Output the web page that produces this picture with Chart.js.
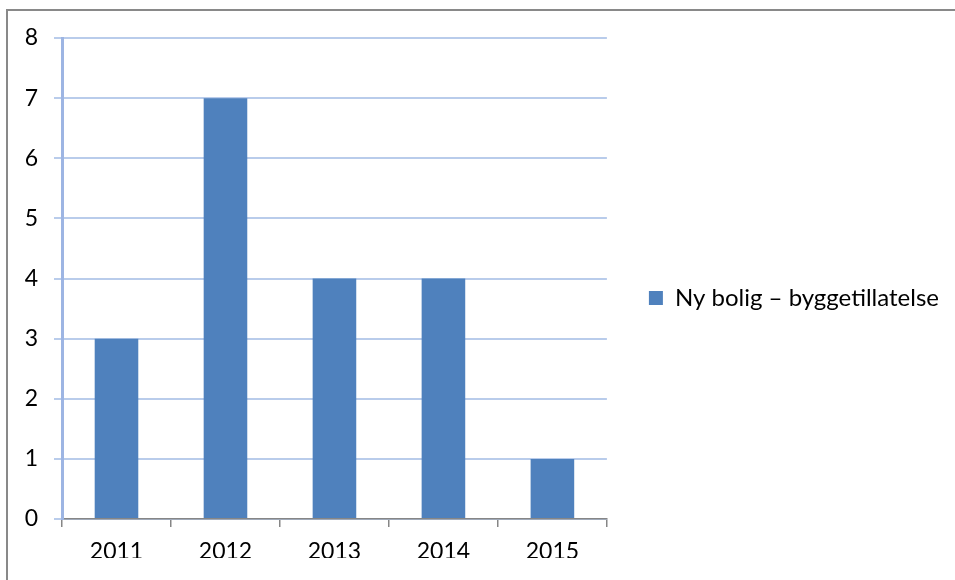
<!DOCTYPE html>
<html>
<head>
<meta charset="utf-8">
<script src="https://cdn.jsdelivr.net/npm/chart.js@4"></script>
<style>
  body { margin: 0; background: #fff; }
  #wrap { width: 955px; height: 580px; position: relative; }
</style>
</head>
<body>
<div id="wrap"><canvas id="myChart"></canvas></div>
<script>
const years = ["2011", "2012", "2013", "2014", "2015"];
const permits = [3, 7, 4, 4, 1];
const seriesLabel = "Ny bolig – byggetillatelse";
const yMin = 0;
const yMax = 8;

const fontFamily = "Lato, sans-serif";

// outer frame like the office chart border
const frame = {
  id: "frame",
  beforeDraw(chart) {
    const ctx = chart.ctx;
    ctx.save();
    ctx.fillStyle = "#fff";
    ctx.fillRect(0, 0, chart.width, chart.height);
    ctx.strokeStyle = "#898989";
    ctx.lineWidth = 2;
    ctx.strokeRect(7, 10, chart.width + 20, chart.height + 20);
    ctx.restore();
  },
};

function drawChart() {
  new Chart(document.getElementById("myChart"), {
    type: "bar",
    data: {
      labels: years,
      datasets: [
        {
          label: seriesLabel,
          data: permits,
          backgroundColor: "#4F81BD",
          barPercentage: 0.4,
          categoryPercentage: 1,
        },
      ],
    },
    options: {
      responsive: true,
      maintainAspectRatio: false,
      animation: false,
      layout: { padding: { top: 38, right: 6, bottom: 22, left: 0 } },
      plugins: {
        tooltip: { enabled: false },
        legend: {
          position: "right",
          maxWidth: 400,
          labels: {
            boxWidth: 14,
            boxHeight: 14,
            padding: 42,
            color: "#000",
            font: { family: fontFamily, size: 24 },
          },
        },
      },
      scales: {
        x: {
          offset: true,
          grid: {
            offset: true,
            drawOnChartArea: false,
            drawTicks: true,
            tickLength: 8,
            color: "#868686",
            lineWidth: 1.5,
          },
          border: { color: "#868686", width: 1.5 },
          ticks: { color: "#000", padding: 11, font: { family: fontFamily, size: 23 } },
          afterFit(scale) {
            scale.height = 39;
          },
        },
        y: {
          min: yMin,
          max: yMax,
          grid: {
            color: "#B9CCEB",
            lineWidth: 2,
            tickLength: 8,
          },
          border: { color: "#9DB5E3", width: 3 },
          ticks: {
            stepSize: 1,
            color: "#000",
            padding: 16,
            font: { family: fontFamily, size: 23 },
          },
          afterFit(scale) {
            scale.width = 62;
          },
        },
      },
    },
    plugins: [frame],
  });
}

// make sure the font is there before chart.js measures the legend
Promise.all([
  document.fonts.load("24px Lato"),
  document.fonts.load("23px Lato"),
]).then(drawChart, drawChart);
</script>
</body>
</html>
